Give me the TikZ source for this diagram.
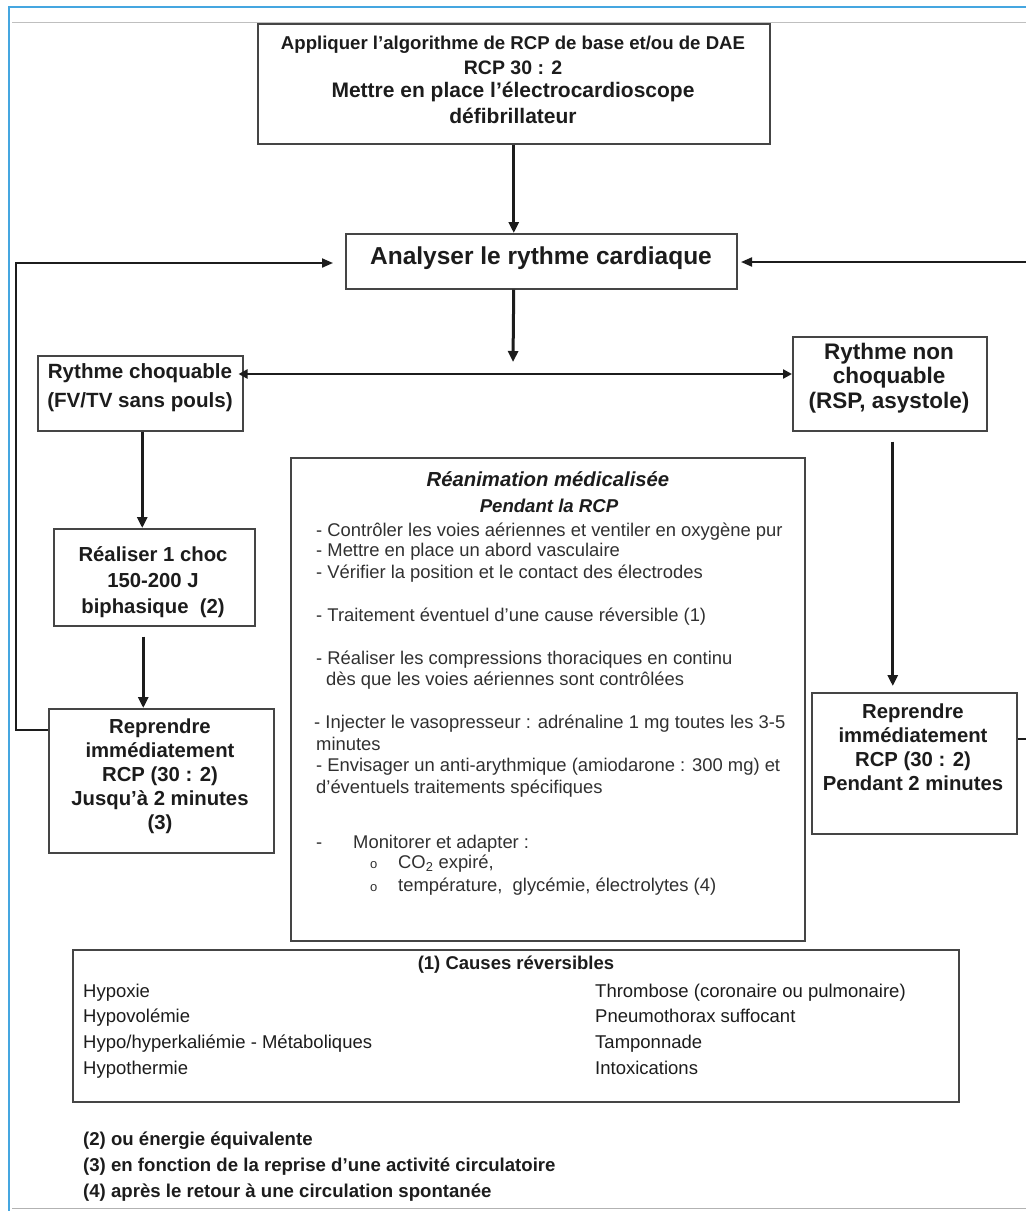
\documentclass[tikz,border=0pt]{standalone}
\usepackage{fontspec}
\setmainfont{Liberation Sans}
\usetikzlibrary{arrows.meta,calc}
\newcommand\fsz[2]{\fontsize{#1}{#2}\selectfont}
\definecolor{frameblue}{HTML}{45A6E0}
\definecolor{boxgray}{HTML}{454545}
\definecolor{txt}{HTML}{1C1C1C}
\definecolor{txtgray}{HTML}{303030}
\begin{document}
\begin{tikzpicture}[x=1pt,y=-1pt,
  box/.style={draw=boxgray, line width=1.5pt, inner sep=0pt, anchor=north west},
  flow/.style={line width=3pt, draw=txt, -{Triangle[length=11pt,width=10pt]}},
  loopline/.style={line width=2pt, draw=txt},
  lbl/.style={inner sep=0pt, align=center, text=txt, font=\bfseries\fsz{20.3}{24}},
  item/.style={inner sep=0pt, anchor=base west, text=txtgray, font=\fsz{18.4}{20}},
  cause/.style={inner sep=0pt, anchor=base west, text=txt, font=\fsz{18.5}{22}},
  note/.style={inner sep=0pt, anchor=base west, text=txt, font=\bfseries\fsz{18.6}{22}},
]
\useasboundingbox (0,0) rectangle (1026,1211);
\clip (0,0) rectangle (1026,1211);
% frame
\draw[frameblue, line width=2.5pt] (9,1212) -- (9,7) -- (1027,7);
\draw[black!25, line width=1pt] (12,22) -- (1026,22);
\draw[black!30, line width=1pt] (12,1208) -- (1026,1208);

% boxes
\node[box, minimum width=512pt, minimum height=120pt] (top) at (257,23) {};
\node[lbl, font=\bfseries\fsz{18.6}{20}] (top1) at (513,45) {Appliquer l'algorithme de RCP de base et/ou de DAE};
\node[lbl, font=\bfseries\fsz{19.5}{20}] (top2) at (513,68) {RCP 30 : 2};
\node[lbl, font=\bfseries\fsz{21}{24}] (top3) at (513,92) {Mettre en place l'électrocardioscope};
\node[lbl, font=\bfseries\fsz{21}{24}] (top4) at (513,116) {défibrillateur};

\node[box, minimum width=391pt, minimum height=55pt] (analyze) at (345,233) {};
\node[lbl, font=\bfseries\fsz{24.5}{27}] (analyzetxt) at (541,258) {Analyser le rythme cardiaque};

\node[box, minimum width=205pt, minimum height=75pt] (shock) at (37,355) {};
\node[lbl, font=\bfseries\fsz{20.6}{29}] (shocktxt) at (140,388) {Rythme choquable\\(FV/TV sans pouls)};

\node[box, minimum width=194pt, minimum height=94pt] (noshock) at (792,336) {};
\node[lbl, font=\bfseries\fsz{22.5}{24.5}] (noshocktxt) at (889,378) {Rythme non\\choquable\\(RSP, asystole)};

\node[box, minimum width=201pt, minimum height=97pt] (choc) at (53,528) {};
\node[lbl, font=\bfseries\fsz{20.3}{26}] (choctxt) at (153,582) {Réaliser 1 choc\\150-200 J\\biphasique~ (2)};

\node[box, minimum width=225pt, minimum height=144pt] (repL) at (48,708) {};
\node[lbl] (repLtxt) at (160,776) {Reprendre\\immédiatement\\RCP (30 : 2)\\Jusqu'à 2 minutes\\(3)};

\node[box, minimum width=205pt, minimum height=141pt] (repR) at (811,692) {};
\node[lbl] (repRtxt) at (913,747) {Reprendre\\immédiatement\\RCP (30 : 2)\\Pendant 2 minutes};

\node[box, minimum width=514pt, minimum height=483pt] (med) at (290,457) {};
\node[inner sep=0pt, text=txt, font=\bfseries\itshape\fsz{20.3}{22}] (medt1) at (548,479) {Réanimation médicalisée};
\node[inner sep=0pt, text=txt, font=\bfseries\itshape\fsz{18.6}{22}] (medt2) at (549,506) {Pendant la RCP};
\node[item] (m1) at (316,536) {- Contrôler les voies aériennes et ventiler en oxygène pur};
\node[item] (m2) at (316,556) {- Mettre en place un abord vasculaire};
\node[item] (m3) at (316,578) {- Vérifier la position et le contact des électrodes};
\node[item] (m4) at (316,621) {- Traitement éventuel d'une cause réversible (1)};
\node[item] (m5) at (316,664) {- Réaliser les compressions thoraciques en continu};
\node[item] (m6) at (326,685) {dès que les voies aériennes sont contrôlées};
\node[item] (m7) at (314,728) {- Injecter le vasopresseur : adrénaline 1 mg toutes les 3-5};
\node[item] (m8) at (316,750) {minutes};
\node[item] (m9) at (316,771) {- Envisager un anti-arythmique (amiodarone : 300 mg) et};
\node[item] (m10) at (316,793) {d'éventuels traitements spécifiques};
\node[item] (m11a) at (316,848) {-};
\node[item] (m11) at (353,848) {Monitorer et adapter :};
\node[item, font=\fsz{13}{14}] (m12a) at (370,868) {o};
\node[item] (m12) at (398,868) {CO\textsubscript{2} expiré,};
\node[item, font=\fsz{13}{14}] (m13a) at (370,891) {o};
\node[item] (m13) at (398,891) {température,~ glycémie, électrolytes (4)};

\node[box, minimum width=886pt, minimum height=152pt] (causes) at (72,949) {};
\node[inner sep=0pt, text=txt, font=\bfseries\fsz{18.5}{22}] (causest) at (516,965) {(1) Causes réversibles};
\node[cause] (c1) at (83,997) {Hypoxie};
\node[cause] (c2) at (83,1022) {Hypovolémie};
\node[cause] (c3) at (83,1048) {Hypo/hyperkaliémie - Métaboliques};
\node[cause] (c4) at (83,1074) {Hypothermie};
\node[cause] (c5) at (595,997) {Thrombose (coronaire ou pulmonaire)};
\node[cause] (c6) at (595,1022) {Pneumothorax suffocant};
\node[cause] (c7) at (595,1048) {Tamponnade};
\node[cause] (c8) at (595,1074) {Intoxications};

\node[note] (n2) at (83,1145) {(2) ou énergie équivalente};
\node[note] (n3) at (83,1171) {(3) en fonction de la reprise d'une activité circulatoire};
\node[note] (n4) at (83,1197) {(4) après le retour à une circulation spontanée};

% connectors
\coordinate (split) at (513,362);
\draw[flow] (top.south) -- (top.south |- analyze.north);
\draw[flow] (analyze.south -| top.south) -- (split);
\draw[line width=2.6pt, draw=txt, {Triangle[length=9pt,width=9pt]}-{Triangle[length=9pt,width=9pt]}]
  ($(shock.north east)+(-5,19)$) -- ($(noshock.north west)+(0,38)$);
\draw[flow] ($(shock.south)+(2,0)$) -- ($(shock.south |- choc.north)+(2,0)$);
\draw[flow] ($(choc.south)+(-11,10)$) -- ($(choc.south |- repL.north)+(-11,0)$);
\draw[flow] ($(noshock.south)+(3,10)$) -- ($(noshock.south |- repR.north)+(3,-6)$);
\coordinate (linL) at (333,263);
\coordinate (linR) at (741,262);
\draw[loopline, -{Triangle[length=11pt,width=9pt]}] (repL.west |- 0,730) -- (16,730) -- (16,263) -- (linL);
\draw[loopline, -{Triangle[length=11pt,width=9pt]}] (repR.east |- 0,739) -- (1034,739) -- (1034,262) -- (linR);
\end{tikzpicture}
\end{document}
